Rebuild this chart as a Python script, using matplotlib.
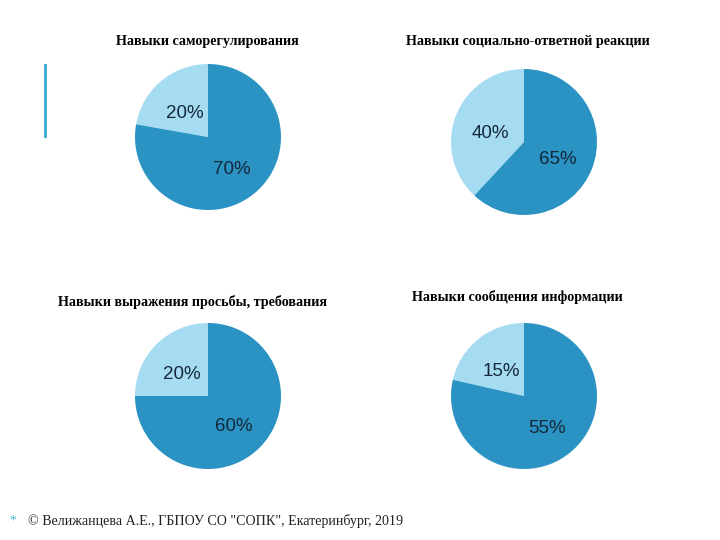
import matplotlib.pyplot as plt

titles = ["Навыки саморегулирования",
          "Навыки социально-ответной реакции",
          "Навыки выражения просьбы, требования",
          "Навыки сообщения информации"]
light_vals = [20, 40, 20, 15]
dark_vals = [70, 65, 60, 55]

# pie centres / title centres in pixels (from top-left)
centers = [(208, 137), (524, 142), (208, 396), (524, 396)]
title_pos = [(207, 41), (528, 41), (193, 302), (517, 297)]
R = 73
W, H = 720, 540

light = '#a6dcf2'
dark = '#2a93c3'
txt = '#15283a'

fig = plt.figure(figsize=(7.2, 5.4), dpi=100)
fig.patch.set_facecolor('white')

for i in range(4):
    cx, cy = centers[i]
    ax = fig.add_axes([(cx - R) / W, (H - cy - R) / H, 2 * R / W, 2 * R / H])
    vals = [light_vals[i], dark_vals[i]]
    wedges, texts = ax.pie(vals, colors=[light, dark], startangle=90,
                           labels=[str(v) + "%" for v in vals], labeldistance=0.5,
                           wedgeprops=dict(linewidth=0))
    for t in texts:
        t.set_fontsize(13.5)
        t.set_color(txt)
        t.set_family('Liberation Sans')
        t.set_ha('center')
        t.set_va('center')
        x, y = t.get_position()
        t.set_position((x, y - 0.06))  # labels sit a bit lower in the original
    ax.set_xlim(-1, 1)
    ax.set_ylim(-1, 1)
    ax.set_aspect('equal')
    tx, ty = title_pos[i]
    fig.text(tx / W, 1 - ty / H, titles[i], ha='center', va='center',
             fontsize=10.2, fontweight='bold', family='Liberation Serif', color='black')

# decorative line
fig.add_artist(plt.Line2D([45 / W, 45 / W], [1 - 65 / H, 1 - 136 / H], color='#3aa8cf', linewidth=2))

fig.text(9 / W, 1 - 521 / H, "*", color='#5ab7da', fontsize=10, family='Liberation Serif', va='center')
fig.text(28 / W, 1 - 521 / H, '© Велижанцева А.Е., ГБПОУ СО "СОПК", Екатеринбург, 2019',
         fontsize=10.1, family='Liberation Serif', color='#222222', va='center')

fig.savefig('out.png', dpi=100)
